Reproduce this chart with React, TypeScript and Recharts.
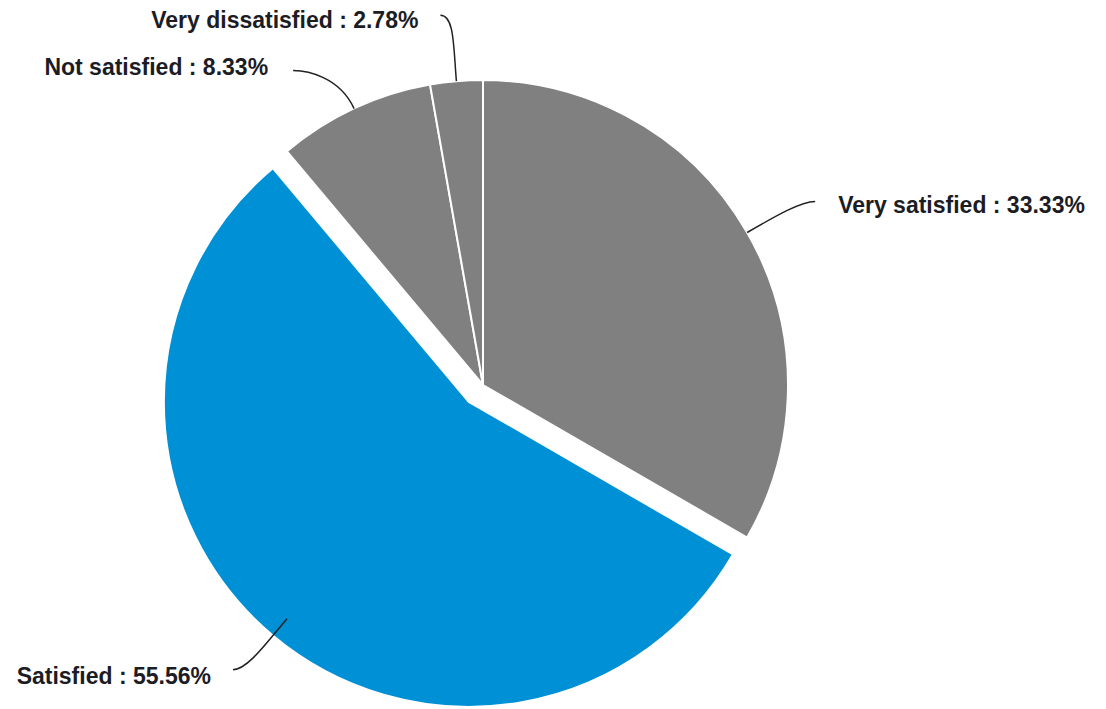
import { PieChart, Pie, Cell, Sector } from 'recharts';

const categories = ['Very satisfied', 'Satisfied', 'Not satisfied', 'Very dissatisfied'];
const responses = [12, 20, 3, 1];
const sliceColors = ['#808080', '#0090d5', '#808080', '#808080'];
const explodedIndex = 1;

// where each leader line ends, relative to the slice's outer edge point,
// and how the text sits against that end
const labelLayout = [
  { dx: 68, dy: -31, tx: 23, ty: 3, side: 'right' },
  { dx: -54, dy: 51, tx: -22, ty: 6, side: 'left' },
  { dx: -61, dy: -38, tx: -25, ty: -4, side: 'left' },
  { dx: -16, dy: -66, tx: -22, ty: 5, side: 'left' },
];

const RADIAN = Math.PI / 180;
const EXPLODE = 22;
const total = responses.reduce((a, b) => a + b, 0);
const data = categories.map((name, i) => ({ name, value: responses[i] }));

function SliceShape(props: any) {
  const { cx, cy, midAngle, index } = props;
  let x = cx;
  let y = cy;
  if (index === explodedIndex) {
    x = cx + EXPLODE * Math.cos(-midAngle * RADIAN);
    y = cy + EXPLODE * Math.sin(-midAngle * RADIAN);
  }
  return <Sector {...props} cx={x} cy={y} />;
}

function renderLabel(props: any) {
  const { cx, cy, midAngle, outerRadius, index } = props;
  const lay = labelLayout[index];
  const cos = Math.cos(-midAngle * RADIAN);
  const sin = Math.sin(-midAngle * RADIAN);
  const sx = cx + outerRadius * cos;
  const sy = cy + outerRadius * sin;
  const ex = sx + lay.dx;
  const ey = sy + lay.dy;
  const c1x = sx + cos * 35;
  const c1y = sy + sin * 35;
  const c2x = lay.side === 'left' ? ex + 14 : ex - 14;
  const pctText = ((responses[index] / total) * 100).toFixed(2);
  return (
    <g key={`lbl-${index}`}>
      <path
        d={`M${sx},${sy} C${c1x},${c1y} ${c2x},${ey} ${ex},${ey}`}
        stroke="#222"
        strokeWidth={1.5}
        fill="none"
      />
      <text
        x={ex + lay.tx}
        y={ey + lay.ty}
        textAnchor={lay.side === 'left' ? 'end' : 'start'}
        dominantBaseline="central"
        fill="#1c1c24"
        fontSize={23}
        fontWeight="bold"
        fontFamily="'Liberation Sans', Arial, sans-serif"
      >
        {`${categories[index]} : ${pctText}%`}
      </text>
    </g>
  );
}

export default function App() {
  return (
    <div style={{ position: 'fixed', left: 0, top: 0, width: 1106, height: 709, background: '#fff' }}>
      <PieChart width={1106} height={709} margin={{ top: 0, right: 0, bottom: 0, left: 0 }}>
        <Pie
          data={data}
          dataKey="value"
          nameKey="name"
          cx={483}
          cy={385}
          outerRadius={305}
          startAngle={90}
          endAngle={-270}
          stroke="#fff"
          strokeWidth={2}
          shape={SliceShape}
          label={renderLabel}
          labelLine={false}
          isAnimationActive={false}
        >
          {data.map((d, i) => (
            <Cell key={d.name} fill={sliceColors[i]} />
          ))}
        </Pie>
      </PieChart>
    </div>
  );
}
